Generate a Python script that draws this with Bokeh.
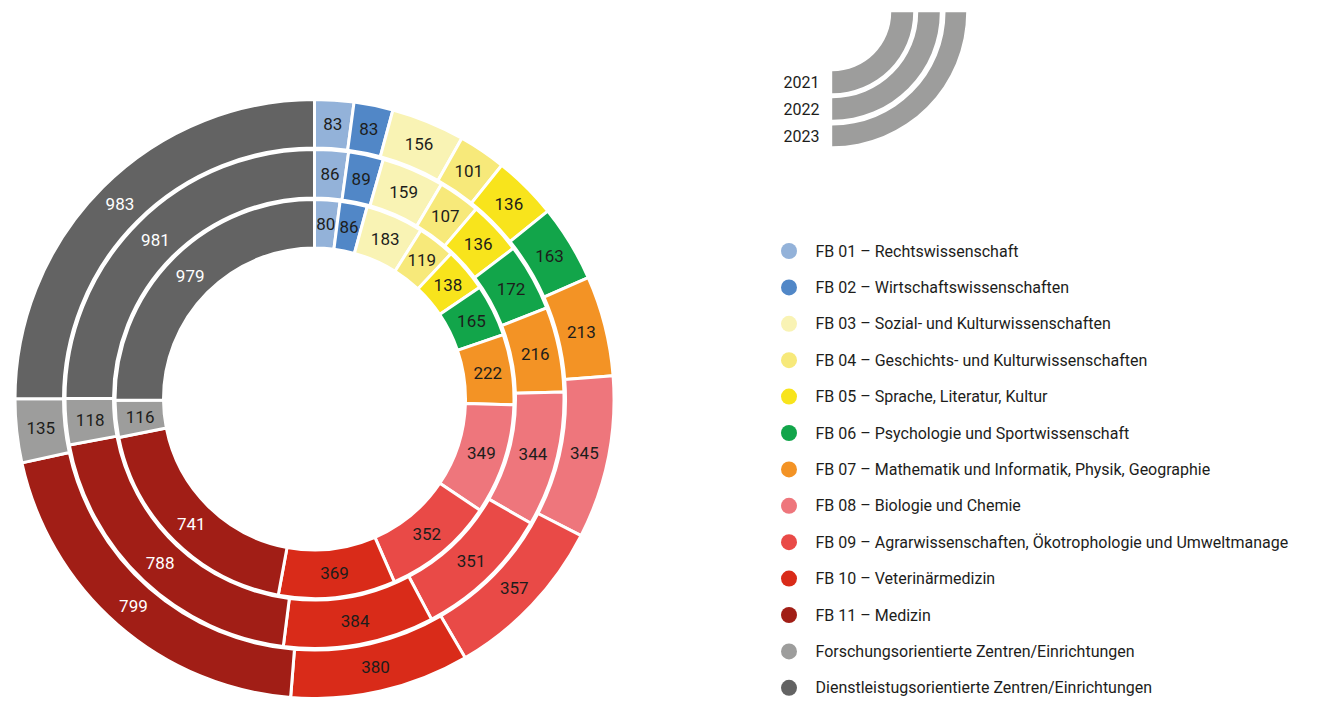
import numpy as np
from bokeh.plotting import figure
from bokeh.models import Range1d, ColumnDataSource
from bokeh.embed import file_html
from bokeh.resources import INLINE
from bokeh.core.properties import value

# ---------------- data ----------------
categories = [
    "FB 01 – Rechtswissenschaft",
    "FB 02 – Wirtschaftswissenschaften",
    "FB 03 – Sozial- und Kulturwissenschaften",
    "FB 04 – Geschichts- und Kulturwissenschaften",
    "FB 05 – Sprache, Literatur, Kultur",
    "FB 06 – Psychologie und Sportwissenschaft",
    "FB 07 – Mathematik und Informatik, Physik, Geographie",
    "FB 08 – Biologie und Chemie",
    "FB 09 – Agrarwissenschaften, Ökotrophologie und Umweltmanage",
    "FB 10 – Veterinärmedizin",
    "FB 11 – Medizin",
    "Forschungsorientierte Zentren/Einrichtungen",
    "Dienstleistugsorientierte Zentren/Einrichtungen",
]
years = ["2021", "2022", "2023"]
values_2021 = [80, 86, 183, 119, 138, 165, 222, 349, 352, 369, 741, 116, 979]
values_2022 = [86, 89, 159, 107, 136, 172, 216, 344, 351, 384, 788, 118, 981]
values_2023 = [83, 83, 156, 101, 136, 163, 213, 345, 357, 380, 799, 135, 983]

colors = ["#93b2d9", "#5187c7", "#f9f3b4", "#f7e97a", "#f8e41c", "#12a54a",
          "#f39325", "#ee767c", "#e94a47", "#d92b19", "#a11e16", "#9d9d9c", "#636363"]
label_colors = ["#1d1d1b"] * 10 + ["#ffffff", "#1d1d1b", "#ffffff"]

FONT = value("Roboto")
W, H = 1304, 697
TOP = 713  # data y = TOP - picture y

p = figure(width=W, height=H, x_range=Range1d(0, W), y_range=Range1d(TOP - H, TOP),
           output_backend="svg", toolbar_location=None, min_border=0,
           x_axis_type=None, y_axis_type=None, outline_line_color=None)
p.grid.visible = False
p.background_fill_color = "white"
p.border_fill_color = "white"

cx, cy = 314, TOP - 398.5
rings = [(values_2021, 151, 199.5), (values_2022, 201, 249.5), (values_2023, 251, 299.5)]

for vals, r_in, r_out in rings:
    v = np.array(vals, dtype=float)
    tot = v.sum()
    cum = np.cumsum(v)
    start = np.pi / 2 - 2 * np.pi * cum / tot
    end = np.pi / 2 - 2 * np.pi * (cum - v) / tot
    mid = np.pi / 2 - 2 * np.pi * (cum - v / 2) / tot
    src = ColumnDataSource(dict(start=start, end=end, color=colors))
    p.annular_wedge(x=cx, y=cy, inner_radius=r_in, outer_radius=r_out,
                    start_angle="start", end_angle="end", fill_color="color",
                    line_color="white", line_width=3, source=src)
    rm = (r_in + r_out) / 2
    lsrc = ColumnDataSource(dict(x=cx + rm * np.cos(mid), y=cy + rm * np.sin(mid),
                                 t=[str(x) for x in vals], c=label_colors))
    p.text(x="x", y="y", text="t", text_color="c", source=lsrc, text_font=FONT,
           text_font_size="17px", text_align="center", text_baseline="middle")

# year key (quarter arcs)
kx, ky = 831.7, TOP - 11.7
p.annular_wedge(x=kx, y=ky, inner_radius=[59, 86, 113.3], outer_radius=[81, 107.6, 134],
                start_angle=-np.pi / 2, end_angle=0, fill_color="#9d9d9c", line_color=None)
p.text(x=[819] * 3, y=[TOP - 81.7, TOP - 108.5, TOP - 135.3], text=years,
       text_font=FONT, text_font_size="16px", text_align="right",
       text_baseline="middle", text_color="#1d1d1b")

# legend
ly = [TOP - (250.5 + i * 36.4) for i in range(len(categories))]
p.scatter(x=[788.5] * len(categories), y=ly, size=16, fill_color=colors, line_color=None)
p.text(x=[815] * len(categories), y=ly, text=categories, text_font=FONT,
       text_font_size="16px", text_align="left", text_baseline="middle",
       text_color="#1d1d1b")

open("out.html", "w").write(file_html(p, INLINE))
